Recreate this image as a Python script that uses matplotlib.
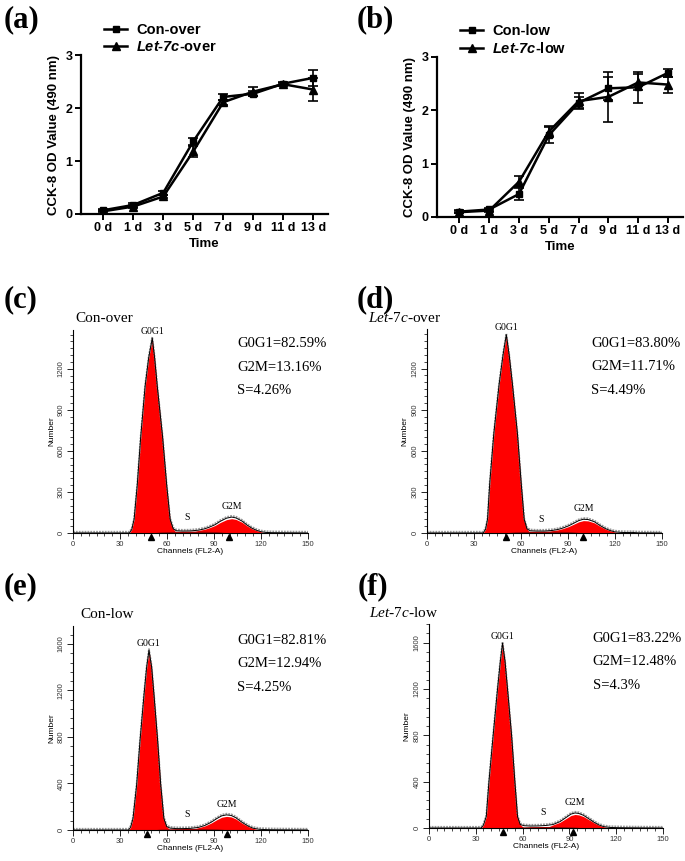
import numpy as np
import matplotlib
matplotlib.use("Agg")
import matplotlib.pyplot as plt
from matplotlib.ticker import MultipleLocator
from matplotlib.lines import Line2D

SANS = "Liberation Sans"
SERIF = "Liberation Serif"
plt.rcParams["mathtext.fontset"] = "custom"
plt.rcParams["mathtext.it"] = "Liberation Serif:italic"
plt.rcParams["mathtext.rm"] = "Liberation Serif"
plt.rcParams["mathtext.bfit"] = "Liberation Sans:italic:bold"

# ---- CCK-8 growth curves ----
days = ["0 d", "1 d", "3 d", "5 d", "7 d", "9 d", "11 d", "13 d"]

con_over = [0.07, 0.17, 0.40, 1.37, 2.21, 2.27, 2.46, 2.57]
con_over_err = [0.02, 0.03, 0.04, 0.06, 0.05, 0.05, 0.03, 0.15]
let_over = [0.05, 0.14, 0.33, 1.18, 2.11, 2.31, 2.45, 2.35]
let_over_err = [0.02, 0.02, 0.03, 0.10, 0.05, 0.08, 0.03, 0.22]

con_low = [0.10, 0.14, 0.43, 1.53, 2.14, 2.41, 2.43, 2.70]
con_low_err = [0.03, 0.03, 0.12, 0.15, 0.10, 0.22, 0.29, 0.08]
let_low = [0.09, 0.12, 0.66, 1.60, 2.17, 2.25, 2.52, 2.48]
let_low_err = [0.02, 0.03, 0.10, 0.10, 0.15, 0.47, 0.15, 0.15]

# ---- flow cytometry histograms (channel, count) ----
chan_c = [0, 36, 37.5, 39, 41, 43.2, 46, 48.3, 50.6, 52.1, 53.8, 57.2, 59.8, 62, 64,
          66, 70, 75, 80, 84, 87, 90.6, 94, 98, 101.3, 104, 108, 110.8, 114, 117,
          120, 123, 127, 150]
hist_c = [0, 0, 25, 100, 350, 700, 1070, 1280, 1424, 1280, 1070, 700, 350, 100, 30,
          16, 14, 15, 20, 30, 42, 60, 85, 108, 116, 110, 86, 60, 36, 20, 9, 4, 2, 0]

chan_d = [0, 36, 37.5, 38.8, 40.2, 42.8, 46.2, 48.7, 50.8, 52.6, 54.7, 57.9, 60.3,
          62.2, 64, 66, 70, 75, 80, 84, 87, 90.6, 94, 97, 100, 103, 107, 110.5, 114,
          117, 120, 124, 128, 131, 135, 150]
hist_d = [0, 0, 25, 100, 362, 724, 1086, 1300, 1448, 1300, 1086, 724, 362, 100, 30,
          16, 14, 14, 18, 26, 36, 52, 72, 90, 100, 98, 82, 55, 32, 18, 8, 4, 3, 4, 1, 0]

chan_e = [0, 35.5, 36.8, 38.3, 40.6, 42.8, 45.3, 47, 48.5, 50.2, 51.7, 54, 56, 58,
          59.8, 62, 66, 70, 75, 80, 84, 88, 92, 95, 98, 101, 104, 108, 112, 115, 119,
          124, 130, 150]
hist_e = [0, 0, 25, 100, 386, 773, 1160, 1400, 1546, 1400, 1160, 773, 386, 100, 30,
          16, 12, 12, 14, 22, 38, 65, 100, 122, 130, 125, 105, 65, 32, 15, 6, 3, 2, 0]

chan_f = [0, 33.5, 35, 36.8, 38.5, 41.2, 44, 45.8, 47.2, 48.8, 50.4, 53, 55.1, 56.8,
          58.5, 61, 65, 70, 75, 79.5, 84, 88, 91, 93.6, 96, 99, 103, 106, 109, 112,
          116, 121, 127, 150]
hist_f = [0, 0, 25, 100, 400, 800, 1200, 1440, 1597, 1440, 1200, 800, 400, 100, 30,
          20, 17, 18, 22, 30, 55, 92, 120, 130, 126, 110, 75, 48, 26, 12, 5, 3, 2, 0]

s_chan = [50, 56, 65, 80, 92, 100]
s_band = [0, 8, 12, 14, 10, 0]

flow_titles = ["Con-over", "$\\mathit{Let}$-$\\mathit{7c}$-over", "Con-low",
               "$\\mathit{Let}$-$\\mathit{7c}$-low"]
g0g1 = ["82.59%", "83.80%", "82.81%", "83.22%"]
g2m = ["13.16%", "11.71%", "12.94%", "12.48%"]
s_pct = ["4.26%", "4.49%", "4.25%", "4.3%"]
g1_pos = [49.8, 50.8, 47.0, 47.2]
g2_pos = [99.6, 99.7, 98.0, 92.5]
g1_fill = [(36, 64), (36, 64), (35.5, 59.8), (33.5, 58.5)]
g2_fill = [(80, 120), (80, 121), (80, 116), (79.5, 112)]

fig = plt.figure(figsize=(6.85, 8.61), dpi=100)


def growth(ax, a, aerr, b, berr, labels):
    x = np.arange(len(days))
    ax.errorbar(x, a, yerr=aerr, color="black", lw=1.8, marker="s", ms=5,
                capsize=3.5, capthick=1.2, elinewidth=1.2)
    ax.errorbar(x, b, yerr=berr, color="black", lw=1.8, marker="^", ms=5.5,
                capsize=3.5, capthick=1.2, elinewidth=1.2)
    ax.set_xlim(-0.75, 7.5)
    ax.set_ylim(0, 3)
    ax.set_xticks(x)
    ax.set_xticklabels(days)
    ax.set_yticks([0, 1, 2, 3])
    for s in ["top", "right"]:
        ax.spines[s].set_visible(False)
    for s in ["left", "bottom"]:
        ax.spines[s].set_linewidth(1.6)
    ax.tick_params(width=1.4, length=4, labelsize=9, pad=2)
    for t in ax.get_xticklabels() + ax.get_yticklabels():
        t.set_fontweight("bold")
        t.set_fontfamily(SANS)
    ax.set_xlabel("Time", fontsize=9.5, fontweight="bold", family=SANS, labelpad=3)
    ax.set_ylabel("CCK-8 OD Value (490 nm)", fontsize=9.5, fontweight="bold",
                  family=SANS, labelpad=4)
    handles = [Line2D([], [], color="black", lw=1.8, marker="s", ms=5),
               Line2D([], [], color="black", lw=1.8, marker="^", ms=5.5)]
    ax.legend(handles, labels, loc="lower left", bbox_to_anchor=(0.07, 0.97),
              frameon=False, handlelength=1.6, handletextpad=0.6,
              labelspacing=0.2, borderaxespad=0,
              prop={"family": SANS, "weight": "bold", "size": 10.5})


ax_a = fig.add_axes([0.118, 0.7515, 0.361, 0.1845])
growth(ax_a, con_over, con_over_err, let_over, let_over_err,
       ["Con-over", "$\\mathbfit{Let}$-$\\mathbfit{7c}$-over"])
ax_b = fig.add_axes([0.638, 0.748, 0.359, 0.186])
growth(ax_b, con_low, con_low_err, let_low, let_low_err,
       ["Con-low", "$\\mathbfit{Let}$-$\\mathbfit{7c}$-low"])


def flow(ax, chan, hist, i, ymax, ystep, yminor, tx):
    c = np.array(chan, dtype=float)
    h = np.array(hist, dtype=float)
    lo, hi = g1_fill[i]
    ax.fill_between(c, 0, h, where=(c >= lo) & (c <= hi), color="#ff0000",
                    interpolate=True, lw=0)
    lo, hi = g2_fill[i]
    ax.fill_between(c, 0, h * 0.9, where=(c >= lo) & (c <= hi), color="#ff0000",
                    interpolate=True, lw=0)
    ax.fill_between(s_chan, 0, s_band, color="#a00000", lw=0)
    ax.plot(c, h + ymax * 0.006, color="#999999", lw=1.3, ls=(0, (1, 0.6)))
    ax.plot(c, h, color="black", lw=0.7)
    ax.plot([g1_pos[i], g2_pos[i]], [-ymax * 0.018] * 2, ls="none", marker="^",
            color="black", ms=5, clip_on=False)
    ax.set_xlim(0, 150)
    ax.set_ylim(0, ymax)
    ax.xaxis.set_major_locator(MultipleLocator(30))
    ax.xaxis.set_minor_locator(MultipleLocator(5))
    ax.yaxis.set_major_locator(MultipleLocator(ystep))
    ax.yaxis.set_minor_locator(MultipleLocator(yminor))
    for s in ["top", "right"]:
        ax.spines[s].set_visible(False)
    for s in ["left", "bottom"]:
        ax.spines[s].set_linewidth(0.8)
    ax.tick_params(which="major", length=4, width=0.6, labelsize=5.5,
                   labelcolor="#333333", pad=2)
    ax.tick_params(which="minor", length=2, width=0.5)
    for t in ax.get_yticklabels():
        t.set_rotation(90)
        t.set_va("center")
    for t in ax.get_xticklabels() + ax.get_yticklabels():
        t.set_fontfamily(SANS)
    ax.set_xlabel("Channels (FL2-A)", fontsize=6, family=SANS, labelpad=0)
    ax.set_ylabel("Number", fontsize=6, family=SANS, labelpad=2)
    k = hist.index(max(hist))
    ax.text(chan[k], hist[k] + ymax * 0.012, "G0G1", ha="center", va="bottom",
            fontsize=7, family=SERIF)
    g2h = max(hist[20:])
    k2 = 20 + hist[20:].index(g2h)
    ax.text(chan[k2], g2h + ymax * 0.03, "G2M", ha="center", va="bottom",
            fontsize=7, family=SERIF)
    ax.text(73, g2h * 1.0, "S", ha="center", va="center", fontsize=7, family=SERIF)
    ax.text(tx, 1.055, flow_titles[i], transform=ax.transAxes,
            fontsize=11, family=SERIF, va="center")
    ax.text(0.70, 0.93, "G0G1=" + g0g1[i], transform=ax.transAxes, fontsize=10.5,
            family=SERIF, va="center")
    ax.text(0.70, 0.815, "G2M=" + g2m[i], transform=ax.transAxes, fontsize=10.5,
            family=SERIF, va="center")
    ax.text(0.70, 0.70, "S=" + s_pct[i], transform=ax.transAxes, fontsize=10.5,
            family=SERIF, va="center")


ax_c = fig.add_axes([0.1066, 0.381, 0.343, 0.236])
flow(ax_c, chan_c, hist_c, 0, 1485, 300, 50, 0.01)
ax_d = fig.add_axes([0.623, 0.381, 0.343, 0.237])
flow(ax_d, chan_d, hist_d, 1, 1490, 300, 50, -0.25)
ax_e = fig.add_axes([0.1066, 0.036, 0.343, 0.237])
flow(ax_e, chan_e, hist_e, 2, 1755, 400, 80, 0.03)
ax_f = fig.add_axes([0.626, 0.0383, 0.342, 0.2367])
flow(ax_f, chan_f, hist_f, 3, 1760, 400, 80, -0.256)

for lab, x, y in [("(a)", 0.005, 0.977), ("(b)", 0.52, 0.977), ("(c)", 0.005, 0.652),
                  ("(d)", 0.52, 0.652), ("(e)", 0.005, 0.318), ("(f)", 0.522, 0.318)]:
    fig.text(x, y, lab, fontsize=22, fontweight="bold", family=SERIF, va="center")

fig.savefig("out.png", dpi=100)
